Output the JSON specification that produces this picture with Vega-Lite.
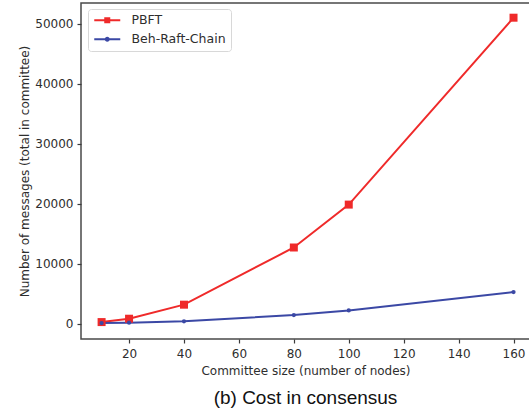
{
  "$schema": "https://vega.github.io/schema/vega-lite/v6.json",
  "autosize": "none",
  "width": 449,
  "height": 336,
  "padding": {"left": 81, "top": 3, "right": 0, "bottom": 74},
  "background": "white",
  "config": {
    "view": {"stroke": "#4a4a4a", "strokeWidth": 1.5},
    "axis": {
      "labelFont": "DejaVu Sans", "titleFont": "DejaVu Sans",
      "labelFontSize": 12, "titleFontSize": 12,
      "labelColor": "#2e2e2e", "titleColor": "#2e2e2e",
      "titleFontWeight": "normal",
      "tickColor": "#3a3a3a", "tickSize": 4, "tickWidth": 1.2,
      "domain": false, "grid": false
    }
  },
  "title": {
    "text": "(b) Cost in consensus",
    "orient": "bottom",
    "font": "Liberation Sans",
    "fontSize": 19,
    "fontWeight": "normal",
    "color": "#111111",
    "offset": 13
  },
  "data": {
    "values": [
      {"n": 10, "series": "PBFT", "messages": 270},
      {"n": 20, "series": "PBFT", "messages": 830},
      {"n": 40, "series": "PBFT", "messages": 3170},
      {"n": 80, "series": "PBFT", "messages": 12700},
      {"n": 100, "series": "PBFT", "messages": 19850},
      {"n": 160, "series": "PBFT", "messages": 51000},
      {"n": 10, "series": "Beh-Raft-Chain", "messages": 100},
      {"n": 20, "series": "Beh-Raft-Chain", "messages": 170},
      {"n": 40, "series": "Beh-Raft-Chain", "messages": 400},
      {"n": 80, "series": "Beh-Raft-Chain", "messages": 1440},
      {"n": 100, "series": "Beh-Raft-Chain", "messages": 2220},
      {"n": 160, "series": "Beh-Raft-Chain", "messages": 5280}
    ]
  },
  "encoding": {
    "x": {
      "field": "n", "type": "quantitative",
      "scale": {"domain": [2.5, 166], "nice": false, "zero": false},
      "axis": {"values": [20, 40, 60, 80, 100, 120, 140, 160], "title": "Committee size (number of nodes)", "labelPadding": 5, "titlePadding": 6}
    },
    "y": {
      "field": "messages", "type": "quantitative",
      "scale": {"domain": [-2550, 53450], "nice": false, "zero": false},
      "axis": {"values": [0, 10000, 20000, 30000, 40000, 50000], "format": "d", "title": "Number of messages (total in committee)", "labelPadding": 4, "titlePadding": 3}
    },
    "color": {
      "field": "series", "type": "nominal",
      "scale": {"domain": ["PBFT", "Beh-Raft-Chain"], "range": ["#ef2a2a", "#3b48a5"]}
    }
  },
  "layer": [
    {
      "mark": {"type": "line", "strokeWidth": 2},
      "encoding": {
        "color": {
          "field": "series", "type": "nominal",
          "legend": {
            "title": null,
            "orient": "none",
            "legendX": 7,
            "legendY": 6,
            "padding": 5,
            "strokeColor": "#d8d8d8",
            "fillColor": "white",
            "cornerRadius": 3,
            "labelFont": "DejaVu Sans",
            "labelFontSize": 12.5,
            "labelColor": "#2e2e2e",
            "symbolSize": 100,
            "symbolOffset": 8,
            "labelOffset": 18,
            "rowPadding": 6,
            "encode": {
              "symbols": {
                "update": {
                  "fill": {"scale": "color", "field": "value"},
                  "stroke": {"scale": "color", "field": "value"},
                  "strokeWidth": {"value": 2},
                  "opacity": {"value": 1},
                  "shape": {"signal": "datum.value === 'PBFT' ? 'M-2.6,0L2.6,0M-0.4,-0.4L0.4,-0.4L0.4,0.4L-0.4,0.4Z' : 'M-2.6,0L2.6,0M-0.3,0A0.3,0.3,0,1,1,0.3,0A0.3,0.3,0,1,1,-0.3,0Z'"}
                }
              }
            }
          }
        }
      }
    },
    {
      "transform": [{"filter": "datum.series === 'PBFT'"}],
      "mark": {"type": "point", "shape": "square", "filled": true, "size": 64, "opacity": 1},
      "encoding": {"color": {"field": "series", "type": "nominal", "legend": null}}
    },
    {
      "transform": [{"filter": "datum.series === 'Beh-Raft-Chain'"}],
      "mark": {"type": "point", "shape": "circle", "filled": true, "size": 18, "opacity": 1},
      "encoding": {"color": {"field": "series", "type": "nominal", "legend": null}}
    }
  ]
}
